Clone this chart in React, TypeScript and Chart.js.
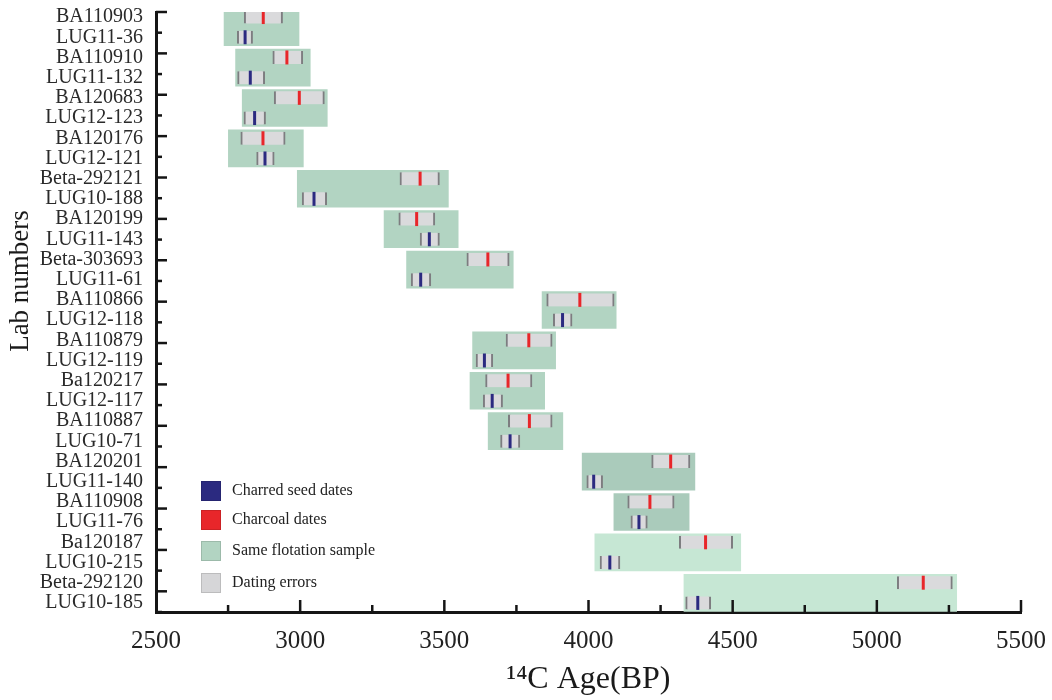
import React, { useEffect, useRef } from 'react';
import { Chart, registerables } from 'chart.js';

Chart.register(...registerables);

// ---- data ----
const labNumbers = [
  'BA110903', 'LUG11-36', 'BA110910', 'LUG11-132', 'BA120683', 'LUG12-123',
  'BA120176', 'LUG12-121', 'Beta-292121', 'LUG10-188', 'BA120199', 'LUG11-143',
  'Beta-303693', 'LUG11-61', 'BA110866', 'LUG12-118', 'BA110879', 'LUG12-119',
  'Ba120217', 'LUG12-117', 'BA110887', 'LUG10-71', 'BA120201', 'LUG11-140',
  'BA110908', 'LUG11-76', 'Ba120187', 'LUG10-215', 'Beta-292120', 'LUG10-185',
];
// charcoal (C) or charred seed (S)
const material = [
  'C', 'S', 'C', 'S', 'C', 'S', 'C', 'S', 'C', 'S', 'C', 'S', 'C', 'S', 'C',
  'S', 'C', 'S', 'C', 'S', 'C', 'S', 'C', 'S', 'C', 'S', 'C', 'S', 'C', 'S',
];
const ages = [
  2872, 2809, 2954, 2827, 2997, 2842, 2871, 2878, 3416, 3048, 3404, 3448,
  3651, 3418, 3970, 3910, 3793, 3639, 3721, 3666, 3795, 3728, 4285, 4018,
  4213, 4175, 4406, 4074, 5161, 4379,
];
const errLow = [
  2806, 2782, 2905, 2783, 2910, 2805, 2794, 2849, 3346, 3007, 3342, 3416,
  3578, 3385, 3855, 3878, 3714, 3610, 3643, 3635, 3722, 3695, 4219, 3994,
  4136, 4147, 4315, 4040, 5071, 4337,
];
const errHigh = [
  2939, 2835, 3009, 2877, 3084, 2880, 2948, 2910, 3483, 3092, 3467, 3483,
  3725, 3453, 4089, 3943, 3874, 3668, 3804, 3702, 3874, 3762, 4352, 4049,
  4297, 4204, 4500, 4109, 5262, 4424,
];
// same flotation sample span (one per pair of rows)
const floatLow = [2736, 2776, 2799, 2751, 2990, 3291, 3369, 3839, 3598, 3589, 3652, 3978, 4088, 4022, 4331];
const floatHigh = [2996, 3035, 3094, 3011, 3514, 3548, 3739, 4096, 3886, 3848, 3911, 4369, 4349, 4528, 5277];
const xTickValues = [2500, 3000, 3500, 4000, 4500, 5000, 5500];
const legendItems = ['Charred seed dates', 'Charcoal dates', 'Same flotation sample', 'Dating errors'];
const xTitle = '\u00B9\u2074C Age(BP)';
const yTitle = 'Lab numbers';

// ---- styles ----
const SERIF = '"Liberation Serif", "Times New Roman", "DejaVu Serif", serif';
const SEED = '#2b2a80';
const CHARCOAL = '#e8262a';
const GREEN = '#b2d4c2';
const floatColors = [
  GREEN, GREEN, GREEN, GREEN, GREEN, GREEN, GREEN, GREEN, GREEN, GREEN, GREEN,
  '#aacbbb', '#aacbbb', '#c6e7d4', '#c6e7d4',
];
const ERRFILL = '#dadadc';
const legendColors = [SEED, CHARCOAL, GREEN, '#d6d6d8'];

const decorPlugin = {
  id: 'decor',
  afterDatasetsDraw(chart: any) {
    const { ctx, chartArea, scales } = chart;
    const { left, top, bottom } = chartArea;
    const xs = scales.x;
    ctx.save();
    ctx.strokeStyle = '#151515';
    ctx.lineWidth = 2.5;
    ctx.lineCap = 'butt';
    const n = labNumbers.length;
    for (let r = 0; r < n; r++) {
      const yy = top + (r * (bottom - top)) / (n - 1);
      const len = r % 2 === 0 ? 11 : 6;
      ctx.beginPath();
      ctx.moveTo(left, yy);
      ctx.lineTo(left + len, yy);
      ctx.stroke();
    }
    const first = xTickValues[0];
    const last = xTickValues[xTickValues.length - 1];
    const step = (xTickValues[1] - xTickValues[0]) / 2;
    for (let v = first + step; v <= last; v += step) {
      const xx = xs.getPixelForValue(v);
      const major = xTickValues.includes(v);
      const len = major ? 12 : 7;
      ctx.beginPath();
      ctx.moveTo(xx, bottom);
      ctx.lineTo(xx, bottom - len);
      ctx.stroke();
    }
    ctx.restore();
  },
  afterDraw(chart: any) {
    const { ctx } = chart;
    ctx.save();
    // y axis title
    ctx.translate(21, 281);
    ctx.rotate(-Math.PI / 2);
    ctx.font = `27px ${SERIF}`;
    ctx.fillStyle = '#1a1a1a';
    ctx.textAlign = 'center';
    ctx.textBaseline = 'middle';
    ctx.fillText(yTitle, 0, 0);
    ctx.restore();

    // legend
    ctx.save();
    const ys = [491, 520, 551, 583];
    legendItems.forEach((t, i) => {
      ctx.fillStyle = legendColors[i];
      ctx.fillRect(201, ys[i] - 10, 20, 20);
      ctx.strokeStyle = 'rgba(0,0,0,0.12)';
      ctx.lineWidth = 1;
      ctx.strokeRect(201.5, ys[i] - 9.5, 19, 19);
      ctx.fillStyle = '#222';
      ctx.font = `16px ${SERIF}`;
      ctx.textAlign = 'left';
      ctx.textBaseline = 'middle';
      ctx.fillText(t, 232, ys[i]);
    });
    ctx.restore();
  },
};

export default function App() {
  const ref = useRef<HTMLCanvasElement>(null);
  useEffect(() => {
    const markColors = material.map((m) => (m === 'C' ? CHARCOAL : SEED));
    const chart = new Chart(ref.current as HTMLCanvasElement, {
      type: 'bar',
      data: {
        datasets: [
          {
            type: 'scatter',
            label: 'dates',
            data: ages.map((a, i) => ({ x: a, y: i })),
            pointStyle: 'line',
            pointRotation: 90,
            pointRadius: 7,
            pointBorderWidth: 3,
            pointBorderColor: markColors,
            pointBackgroundColor: markColors,
            order: 1,
          } as any,
          {
            type: 'bar',
            label: 'errors',
            indexAxis: 'y',
            data: errLow.map((lo, i) => ({ x: [lo, errHigh[i]], y: i })),
            backgroundColor: ERRFILL,
            borderColor: '#7d7d80',
            borderWidth: { left: 2, right: 2, top: 0, bottom: 0 },
            borderSkipped: false,
            barThickness: 13,
            grouped: false,
            order: 2,
          } as any,
          {
            type: 'bar',
            label: 'flotation',
            indexAxis: 'y',
            data: floatLow.map((lo, i) => ({ x: [lo, floatHigh[i]], y: 2 * i + 0.5 })),
            backgroundColor: floatColors,
            borderWidth: 0,
            barThickness: 37,
            grouped: false,
            order: 3,
          } as any,
        ],
      },
      options: {
        animation: false,
        responsive: true,
        maintainAspectRatio: false,
        indexAxis: 'y',
        events: [],
        layout: { padding: { top: 12, right: 31, left: 0, bottom: 0 } },
        plugins: { legend: { display: false }, tooltip: { enabled: false } },
        scales: {
          x: {
            type: 'linear',
            position: 'bottom',
            min: 2500,
            max: 5500,
            offset: false,
            grid: { display: false, drawTicks: true, tickLength: 14 },
            border: { display: true, color: '#151515', width: 3 },
            ticks: {
              stepSize: 500,
              padding: 0,
              color: '#222',
              font: { family: SERIF, size: 25 },
              autoSkip: false,
              maxRotation: 0,
              callback: (v: any) => String(v),
            },
            title: {
              display: true,
              text: xTitle,
              color: '#1a1a1a',
              font: { family: SERIF, size: 32, lineHeight: 1.2 },
              padding: { top: 0, bottom: 1 },
            },
            afterFit: (s: any) => {
              s.height = 88;
            },
          },
          y: {
            type: 'linear',
            position: 'left',
            reverse: true,
            min: -0.25,
            max: 29.45,
            offset: false,
            grid: { display: false, drawTicks: true, tickLength: 13 },
            border: { display: true, color: '#151515', width: 3 },
            ticks: {
              stepSize: 1,
              autoSkip: false,
              includeBounds: false,
              padding: 0,
              color: '#2a2a2a',
              font: { family: SERIF, size: 20 },
              callback: (v: any) => {
                const i = Number(v);
                return Number.isInteger(i) && labNumbers[i] !== undefined ? labNumbers[i] : '';
              },
            },
            afterFit: (s: any) => {
              s.width = 156;
            },
          },
        },
      } as any,
      plugins: [decorPlugin],
    });
    return () => chart.destroy();
  }, []);

  return (
    <div style={{ position: 'fixed', left: 0, top: 0, width: 1052, height: 700, background: '#fff' }}>
      <canvas ref={ref} />
    </div>
  );
}
